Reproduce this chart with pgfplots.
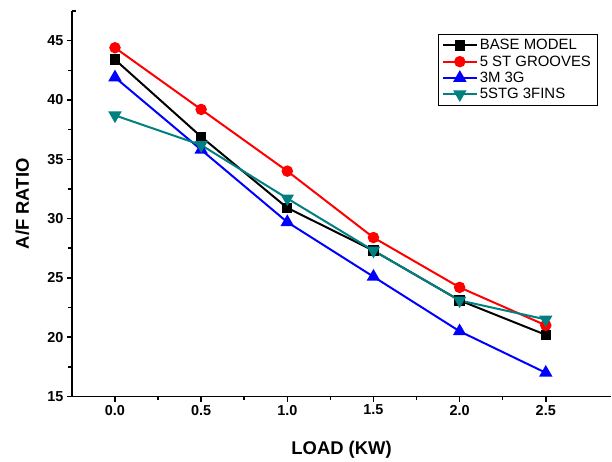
\documentclass[border=0pt]{standalone}
\usepackage{fontspec}
\setmainfont{Liberation Sans}
\usepackage{pgfplots}
\pgfplotsset{compat=1.18}
\definecolor{tealline}{RGB}{0,128,128}
\begin{document}
\begin{tikzpicture}[x=1bp,y=1bp]
\begin{axis}[
    scale only axis,
    width=540bp, height=386bp,
    xmin=-0.25, xmax=2.88,
    ymin=15, ymax=47.5,
    axis x line=bottom, axis y line=left,
    axis line style={-, line width=1.5pt},
    tick align=outside, tick pos=left,
    xtick={0,0.5,...,2.5}, ytick={15,20,...,45},
    minor x tick num=1, minor y tick num=1,
    major tick length=5bp, minor tick length=3.5bp,
    tick style={line width=1.5pt, black},
    extra y ticks={47.5}, extra y tick labels={},
    extra y tick style={tick align=inside, major tick length=4bp},
    xticklabel style={/pgf/number format/fixed, /pgf/number format/fixed zerofill, /pgf/number format/precision=1},
    /pgf/number format/assume math mode=true,
    ticklabel style={font=\fontsize{14.5}{16}\selectfont\bfseries},
    xlabel={LOAD (KW)}, ylabel={A/F RATIO},
    label style={font=\fontsize{18.5}{20}\selectfont\bfseries},
    xlabel style={at={(axis description cs:0.5,-0.137)}, anchor=center},
    ylabel style={at={(axis description cs:-0.092,0.5)}, anchor=center},
    legend style={at={(0.974,0.940)}, anchor=north east, draw=black, line width=0.6pt,
        font=\fontsize{15}{16}\selectfont, row sep=0.4bp, inner xsep=4bp, inner ysep=3bp},
    legend cell align={left},
    legend image code/.code={\draw[mark repeat=2, mark phase=2] plot coordinates {(0bp,0bp) (17bp,0bp) (34bp,0bp)};},
    every axis plot/.append style={line width=2pt, mark size=4.5bp},
]
\addplot[black, mark=square*, mark size=4.2bp] coordinates {(0,43.4) (0.5,36.9) (1.0,30.9) (1.5,27.3) (2.0,23.1) (2.5,20.2)};
\addplot[red, mark=*, mark size=4.7bp] coordinates {(0,44.4) (0.5,39.2) (1.0,34.0) (1.5,28.4) (2.0,24.2) (2.5,21.0)};
\addplot[blue, mark=triangle*, mark size=5.8bp] coordinates {(0,41.9) (0.5,35.8) (1.0,29.7) (1.5,25.1) (2.0,20.5) (2.5,17.0)};
\addplot[tealline, mark=triangle*, mark options={rotate=180}, mark size=5.8bp] coordinates {(0,38.7) (0.5,36.2) (1.0,31.7) (1.5,27.3) (2.0,23.1) (2.5,21.5)};
\legend{BASE MODEL, 5 ST GROOVES, 3M 3G, 5STG 3FINS}
\coordinate (sw) at (rel axis cs:0,0);
\end{axis}
\path (sw) ++(-72bp,-65bp);
\path (sw) ++(540bp,397bp);
\end{tikzpicture}
\end{document}
